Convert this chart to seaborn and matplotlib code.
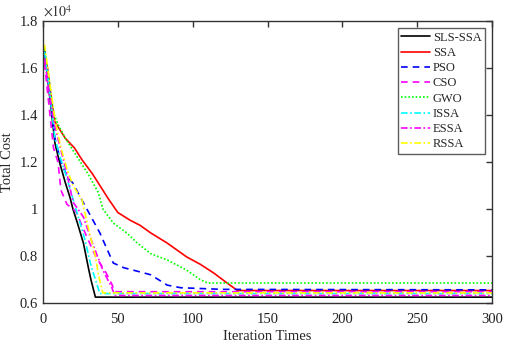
import matplotlib
matplotlib.use("Agg")
import matplotlib.pyplot as plt
import seaborn as sns
from matplotlib.ticker import FuncFormatter, MultipleLocator

# ---- data (Total Cost) ----
names = ["SLS-SSA", "SSA", "PSO", "CSO", "GWO", "ISSA", "ESSA", "RSSA"]

sls_x = [1, 3, 5, 8, 11, 15, 18, 20, 23, 27, 30, 32, 35, 300]
sls_y = [16800, 15600, 14500, 12800, 12000, 11100, 10500, 10000, 9400, 8550, 7600, 7000, 6250, 6250]

ssa_x = [1, 3, 6, 8, 12, 15, 21, 26, 33, 39, 44, 50, 58, 65, 72, 83, 96, 105, 114, 123, 130, 300]
ssa_y = [16500, 16000, 14500, 13700, 13300, 13000, 12600, 12100, 11500, 10900, 10400, 9850, 9530,
         9300, 8980, 8550, 7960, 7650, 7280, 6850, 6530, 6530]

pso_x = [1, 4, 8, 12, 16, 20, 25, 31, 38, 43, 47, 54, 65, 72, 83, 92, 120, 300]
pso_y = [16600, 15200, 13000, 12000, 11400, 11100, 10500, 9800, 8980, 8260, 7700, 7500, 7320,
         7200, 6760, 6650, 6580, 6560]

cso_x = [1, 5, 7, 10, 12, 16, 22, 28, 35, 42, 46, 48, 300]
cso_y = [16200, 13800, 12600, 12000, 10800, 10200, 9900, 9000, 8000, 7300, 6800, 6480, 6480]

gwo_x = [1, 4, 7, 10, 15, 23, 30, 37, 40, 47, 56, 63, 72, 83, 96, 105, 110, 300]
gwo_y = [16800, 15500, 14100, 13600, 13000, 12200, 11500, 10700, 10000, 9400, 8980, 8550, 8100,
         7830, 7400, 7000, 6850, 6850]

issa_x = [1, 4, 8, 12, 16, 22, 28, 32, 35, 38, 300]
issa_y = [16700, 15200, 13000, 12100, 11300, 10000, 8700, 7600, 7000, 6400, 6400]

essa_x = [1, 4, 8, 12, 16, 20, 27, 33, 40, 46, 48, 300]
essa_y = [16400, 15000, 13500, 12500, 11500, 10300, 9660, 8550, 7400, 6650, 6320, 6320]

rssa_x = [1, 4, 8, 12, 16, 20, 26, 31, 35, 37, 40, 300]
rssa_y = [17000, 15600, 13800, 12600, 11700, 11000, 10400, 9000, 8000, 7200, 6430, 6430]

xs = [sls_x, ssa_x, pso_x, cso_x, gwo_x, issa_x, essa_x, rssa_x]
ys = [sls_y, ssa_y, pso_y, cso_y, gwo_y, issa_y, essa_y, rssa_y]

colors = ["black", "#ff0000", "#0000ff", "#ff00ff", "#00ff00", "#00ffff", "#ff00ff", "#ffff00"]
styles = ["-", "-", (0, (4, 3)), (0, (4, 3)), (0, (1, 1.2)), (0, (4, 1.5, 1, 1.5)),
          (0, (4, 1.5, 1, 1.5)), (0, (4, 1.5, 1, 1.5))]

sns.set_style("white")
plt.rcParams["font.family"] = ["Liberation Serif", "DejaVu Serif"]
plt.rcParams["mathtext.fontset"] = "stix"

fig = plt.figure(figsize=(5.05, 3.43), dpi=100)
ax = fig.add_axes([43 / 505, 1 - 303 / 343, (492 - 43) / 505, (303 - 21) / 343])

for n, x, y, c, ls in zip(names, xs, ys, colors, styles):
    sns.lineplot(x=x, y=y, ax=ax, color=c, linestyle=ls, linewidth=1.2, label=n, sort=False)

ax.set_xlim(0, 300)
ax.set_ylim(6000, 18000)
ax.xaxis.set_major_locator(MultipleLocator(50))
ax.yaxis.set_major_locator(MultipleLocator(2000))
ax.yaxis.set_major_formatter(FuncFormatter(lambda v, p: f"{v / 1e4:g}"))
ax.tick_params(direction="in", length=4, width=1, top=True, right=True,
               labelsize=10.5, colors="#333333", labelcolor="#222222")
ax.tick_params(axis="x", pad=7)
for s in ax.spines.values():
    s.set_visible(True)
    s.set_color("#333333")
    s.set_linewidth(1.0)

ax.set_xlabel("Iteration Times", fontsize=10.5, labelpad=3)
ax.set_ylabel("Total Cost", fontsize=10.5, labelpad=4)
ax.text(0.0, 1.005, r"$\times 10^{4}$", transform=ax.transAxes, fontsize=10,
        ha="left", va="bottom", color="#333333")

leg = ax.legend(loc="upper right", fontsize=9, frameon=True, fancybox=False,
                edgecolor="#333333", handlelength=2.3, handletextpad=0.2,
                labelspacing=0.26, borderpad=0.3, borderaxespad=0.55)
leg.get_frame().set_linewidth(1.0)

fig.savefig("out.png", dpi=100)
